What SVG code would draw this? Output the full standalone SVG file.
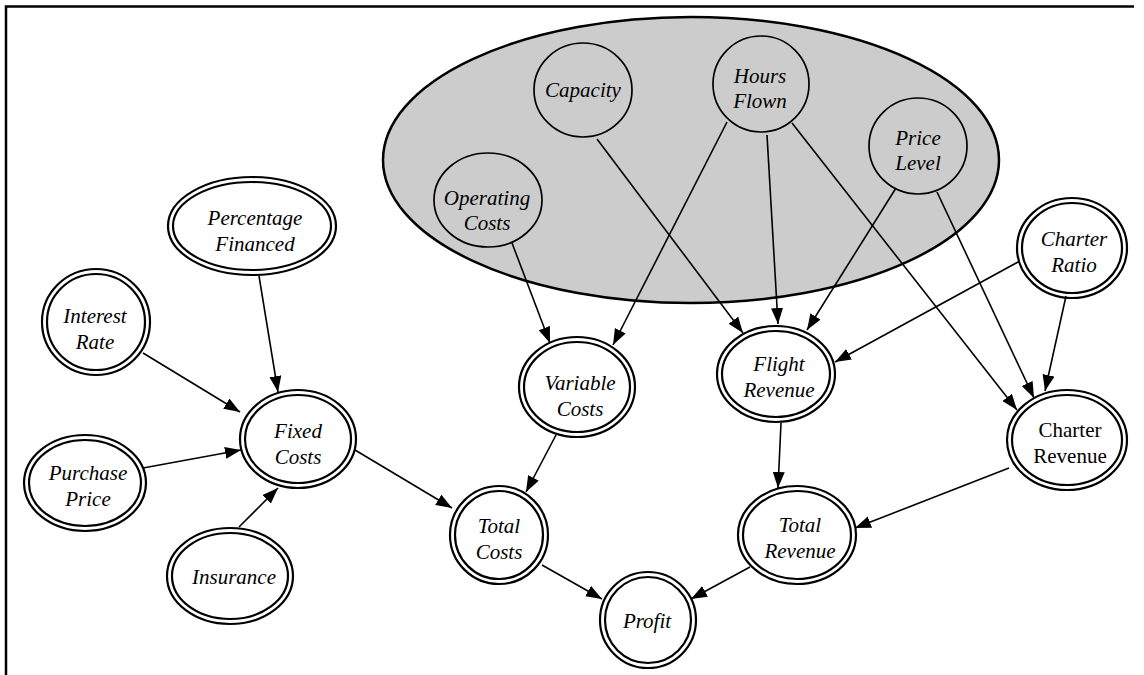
<svg xmlns="http://www.w3.org/2000/svg" width="1144" height="675" viewBox="0 0 1144 675">
<defs>
<style>
.t{font-family:'Liberation Serif','DejaVu Serif',serif;font-size:21px;font-style:italic;text-anchor:middle;fill:#000}
.r{font-style:normal}
.o{fill:#fff;stroke:#000;stroke-width:2.2}
.i{fill:none;stroke:#000;stroke-width:2.2}
.g{fill:#cccccc;stroke:#000;stroke-width:1.7}
.e{stroke:#000;stroke-width:1.6;fill:none;marker-end:url(#ah)}
</style>
<marker id="ah" markerUnits="userSpaceOnUse" markerWidth="18" markerHeight="14" refX="16" refY="6" orient="auto">
<path d="M0,0 L16,6 L0,12 z" fill="#000"/>
</marker>
</defs>
<rect width="1144" height="675" fill="#fff"/>
<path d="M6,675 L6,6.5 L1134,6.5" fill="none" stroke="#000" stroke-width="2.5"/>
<g id="context">
<ellipse cx="691" cy="160" rx="308" ry="143" fill="#cccccc" stroke="#000" stroke-width="2.5"/>
</g>
<g id="capacity"><ellipse class="g" cx="583" cy="90" rx="49" ry="47"/><text class="t" x="583" y="97">Capacity</text></g>
<g id="hours-flown"><ellipse class="g" cx="761" cy="84" rx="48" ry="48"/><text class="t" x="760" y="83">Hours</text><text class="t" x="760" y="108">Flown</text></g>
<g id="operating-costs"><ellipse class="g" cx="488" cy="200" rx="54" ry="47"/><text class="t" x="487" y="205">Operating</text><text class="t" x="487" y="230">Costs</text></g>
<g id="price-level"><ellipse class="g" cx="918" cy="146" rx="49" ry="48"/><text class="t" x="918" y="145">Price</text><text class="t" x="918" y="170">Level</text></g>

<g id="charter-ratio"><ellipse class="o" cx="1072" cy="248" rx="55" ry="50"/><ellipse class="i" cx="1072" cy="248" rx="50" ry="45"/><text class="t" x="1074" y="246">Charter</text><text class="t" x="1074" y="272">Ratio</text></g>
<g id="percentage-financed"><ellipse class="o" cx="252" cy="226" rx="84" ry="49"/><ellipse class="i" cx="252" cy="226" rx="79" ry="44"/><text class="t" x="255" y="225">Percentage</text><text class="t" x="255" y="251">Financed</text></g>
<g id="interest-rate"><ellipse class="o" cx="96" cy="322" rx="54" ry="53"/><ellipse class="i" cx="96" cy="322" rx="49" ry="48"/><text class="t" x="95" y="323">Interest</text><text class="t" x="95" y="349">Rate</text></g>
<g id="fixed-costs"><ellipse class="o" cx="298" cy="439" rx="58" ry="49"/><ellipse class="i" cx="298" cy="439" rx="53" ry="44"/><text class="t" x="298" y="438">Fixed</text><text class="t" x="298" y="464">Costs</text></g>
<g id="purchase-price"><ellipse class="o" cx="85" cy="483" rx="61" ry="48"/><ellipse class="i" cx="85" cy="483" rx="56" ry="43"/><text class="t" x="88" y="480">Purchase</text><text class="t" x="88" y="506">Price</text></g>
<g id="insurance"><ellipse class="o" cx="230" cy="576" rx="63" ry="48"/><ellipse class="i" cx="230" cy="576" rx="58" ry="43"/><text class="t" x="234" y="584">Insurance</text></g>
<g id="variable-costs"><ellipse class="o" cx="577" cy="387" rx="58" ry="50"/><ellipse class="i" cx="577" cy="387" rx="53" ry="45"/><text class="t" x="580" y="390">Variable</text><text class="t" x="580" y="416">Costs</text></g>
<g id="flight-revenue"><ellipse class="o" cx="776" cy="374" rx="59" ry="48"/><ellipse class="i" cx="776" cy="374" rx="54" ry="43"/><text class="t" x="779" y="371">Flight</text><text class="t" x="779" y="397">Revenue</text></g>
<g id="total-costs"><ellipse class="o" cx="499" cy="535" rx="49" ry="49"/><ellipse class="i" cx="499" cy="535" rx="44" ry="44"/><text class="t" x="499" y="533">Total</text><text class="t" x="499" y="559">Costs</text></g>
<g id="profit"><ellipse class="o" cx="648" cy="620" rx="48" ry="48"/><ellipse class="i" cx="648" cy="620" rx="43" ry="43"/><text class="t" x="647" y="628">Profit</text></g>
<g id="total-revenue"><ellipse class="o" cx="797" cy="535" rx="59" ry="49"/><ellipse class="i" cx="797" cy="535" rx="54" ry="44"/><text class="t" x="800" y="532">Total</text><text class="t" x="800" y="558">Revenue</text></g>
<g id="charter-revenue"><ellipse class="o" cx="1067" cy="440" rx="60" ry="50"/><ellipse class="i" cx="1067" cy="440" rx="55" ry="45"/><text class="t r" x="1070" y="437">Charter</text><text class="t r" x="1070" y="463">Revenue</text></g>
<g id="connectors">
<line class="e" x1="512" y1="243" x2="550" y2="343"/>
<line class="e" x1="727" y1="122" x2="613" y2="345"/>
<line class="e" x1="597" y1="139" x2="743" y2="333"/>
<line class="e" x1="767" y1="135" x2="778" y2="324"/>
<line class="e" x1="896" y1="188" x2="807" y2="330"/>
<line class="e" x1="792" y1="123" x2="1017" y2="410"/>
<line class="e" x1="937" y1="192" x2="1034" y2="398"/>
<line class="e" x1="1018" y1="262" x2="835" y2="362"/>
<line class="e" x1="1066" y1="296" x2="1045" y2="391"/>
<line class="e" x1="259" y1="276" x2="278" y2="392"/>
<line class="e" x1="143" y1="353" x2="240" y2="412"/>
<line class="e" x1="143" y1="468" x2="241" y2="450"/>
<line class="e" x1="239" y1="527" x2="278" y2="488"/>
<line class="e" x1="355" y1="450" x2="452" y2="508"/>
<line class="e" x1="556" y1="435" x2="526" y2="492"/>
<line class="e" x1="781" y1="423" x2="778" y2="488"/>
<line class="e" x1="1009" y1="468" x2="855" y2="528"/>
<line class="e" x1="542" y1="565" x2="602" y2="599"/>
<line class="e" x1="750" y1="567" x2="691" y2="599"/>
</g>
</svg>
